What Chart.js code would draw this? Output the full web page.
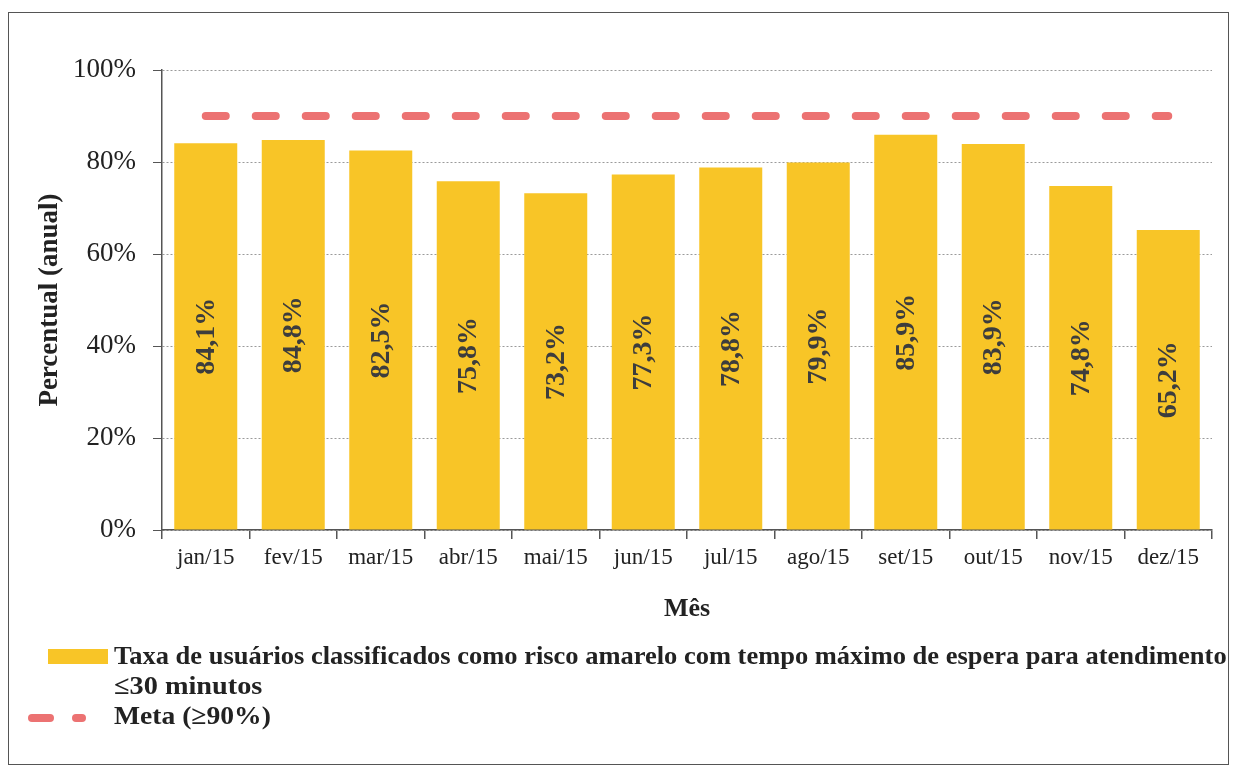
<!DOCTYPE html>
<html>
<head>
<meta charset="utf-8">
<script src="https://cdn.jsdelivr.net/npm/chart.js@4.4.1/dist/chart.umd.min.js"></script>
<style>
  html, body { margin: 0; padding: 0; background: #fff; }
  body { width: 1233px; height: 767px; position: relative; overflow: hidden; font-family: "Liberation Serif", "Times New Roman", serif; }
  #moldura { position: absolute; left: 8px; top: 12px; width: 1221px; height: 753px; border: 1.5px solid #555; box-sizing: border-box; }
  #grafico { position: absolute; left: 0; top: 0; }
  .leg { position: absolute; font-weight: bold; font-size: 26px; line-height: 1; color: #222; white-space: nowrap; transform-origin: left top; }
  .amostra { position: absolute; }
</style>
</head>
<body>
<div id="moldura"></div>
<canvas id="grafico" width="1233" height="767"></canvas>

<!-- legenda -->
<div class="amostra" style="left:48px; top:649px; width:60px; height:15px; background:#F8C527;"></div>
<div class="leg" data-w="1113" style="left:114px; top:643px;">Taxa de usuários classificados como risco amarelo com tempo máximo de espera para atendimento</div>
<div class="leg" data-w="148" style="left:114px; top:673px;">≤30 minutos</div>
<div class="amostra" style="left:28px; top:714px; width:26px; height:8px; border-radius:4px; background:#EC7272;"></div>
<div class="amostra" style="left:72px; top:714px; width:14px; height:8px; border-radius:4px; background:#EC7272;"></div>
<div class="leg" data-w="157" style="left:114px; top:703px;">Meta (≥90%)</div>

<script>
// dados do gráfico
const meses = ['jan/15', 'fev/15', 'mar/15', 'abr/15', 'mai/15', 'jun/15', 'jul/15', 'ago/15', 'set/15', 'out/15', 'nov/15', 'dez/15'];
const taxaAmarelo = [84.1, 84.8, 82.5, 75.8, 73.2, 77.3, 78.8, 79.9, 85.9, 83.9, 74.8, 65.2];
const meta = [90, 90, 90, 90, 90, 90, 90, 90, 90, 90, 90, 90];
const ticksY = [0, 20, 40, 60, 80, 100];

const fonte = '"Liberation Serif", "Times New Roman", serif';

// ajusta a largura das linhas da legenda
document.querySelectorAll('.leg').forEach(el => {
    const alvo = parseFloat(el.dataset.w);
    const atual = el.offsetWidth;
    el.style.transform = 'scaleX(' + (alvo / atual) + ')';
});

// rótulos verticais dentro das barras
const rotuloBarras = {
    id: 'rotuloBarras',
    afterDatasetsDraw(chart) {
        const ctx = chart.ctx;
        const barras = chart.getDatasetMeta(1).data;
        ctx.save();
        ctx.font = 'bold 28px ' + fonte;
        ctx.fillStyle = '#3d3d3d';
        ctx.textAlign = 'center';
        ctx.textBaseline = 'middle';
        barras.forEach((bar, i) => {
            const y = (bar.y + bar.base) / 2;
            ctx.save();
            ctx.translate(bar.x, y);
            ctx.rotate(-Math.PI / 2);
            ctx.fillText(taxaAmarelo[i].toFixed(1).replace('.', ',') + '%', 0, 1);
            ctx.restore();
        });
        ctx.restore();
    }
};

const ctx = document.getElementById('grafico').getContext('2d');
const myChart = new Chart(ctx, {
    type: 'bar',
    data: {
        labels: meses,
        datasets: [
            {
                type: 'line',
                label: 'Meta (≥90%)',
                data: meta,
                borderColor: '#EC7272',
                borderWidth: 8,
                borderDash: [20, 30],
                borderCapStyle: 'round',
                pointRadius: 0,
                fill: false,
                order: 0
            },
            {
                label: 'Taxa de usuários classificados como risco amarelo com tempo máximo de espera para atendimento ≤30 minutos',
                data: taxaAmarelo,
                backgroundColor: '#F8C527',
                barPercentage: 0.72,
                categoryPercentage: 1,
                order: 1
            }
        ]
    },
    options: {
        responsive: false,
        animation: false,
        layout: {
            padding: { left: 34, right: 21, top: 70, bottom: 142 }
        },
        plugins: {
            legend: { display: false },
            tooltip: { enabled: false }
        },
        scales: {
            x: {
                grid: {
                    offset: true,
                    drawOnChartArea: false,
                    drawTicks: true,
                    tickLength: 9,
                    tickColor: '#555',
                    lineWidth: 1.5
                },
                border: { color: '#555', width: 1.5 },
                ticks: {
                    font: { family: fonte, size: 23 },
                    color: '#222',
                    padding: 5,
                    maxRotation: 0,
                    autoSkip: false
                },
                title: {
                    display: true,
                    text: 'Mês',
                    font: { family: fonte, size: 26, weight: 'bold' },
                    color: '#222',
                    padding: 0
                },
                afterFit(scale) { scale.height = 95; }
            },
            y: {
                min: 0,
                max: 100,
                afterBuildTicks(scale) { scale.ticks = ticksY.map(v => ({ value: v })); },
                ticks: {
                    font: { family: fonte, size: 27 },
                    color: '#222',
                    padding: 17,
                    callback: v => v + '%'
                },
                grid: {
                    color: '#9a9a9a',
                    lineWidth: 1,
                    tickColor: '#555',
                    tickLength: 9
                },
                border: { color: '#555', width: 1.5, dash: [2, 2] },
                title: {
                    display: true,
                    text: 'Percentual (anual)',
                    font: { family: fonte, size: 27, weight: 'bold' },
                    color: '#222',
                    padding: 0
                },
                afterFit(scale) { scale.width = 128; }
            }
        }
    },
    plugins: [rotuloBarras]
});
</script>
</body>
</html>
